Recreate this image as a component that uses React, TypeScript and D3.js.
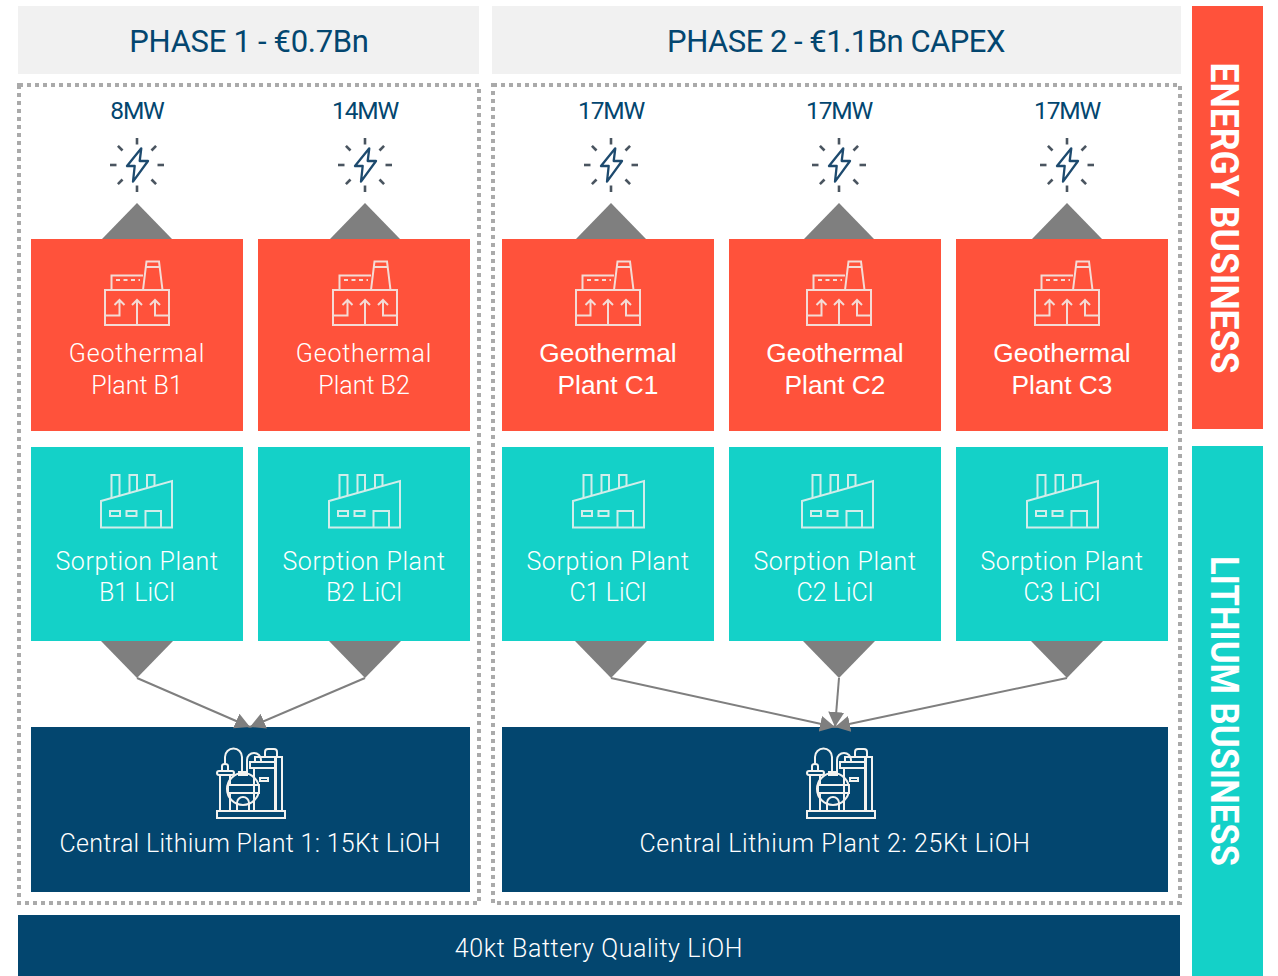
import React from "react";
import * as d3 from "d3";

// chart content
const phaseTitles = ["PHASE 1 - €0.7Bn", "PHASE 2 - €1.1Bn CAPEX"];
const phase1Plants = ["B1", "B2"];
const phase2Plants = ["C1", "C2", "C3"];
const outputs = ["8MW", "14MW", "17MW", "17MW", "17MW"];
const centralPlants = ["Central Lithium Plant 1: 15Kt LiOH", "Central Lithium Plant 2: 25Kt LiOH"];
const bottomLabel = "40kt Battery Quality LiOH";
const sideLabels = ["ENERGY BUSINESS", "LITHIUM BUSINESS"];

const RED = "#ff523b";
const TEAL = "#14d1c8";
const NAVY = "#03466f";
const GREY = "#7f7f7f";
const FONT = "Roboto, sans-serif";
const ARIAL = "'Liberation Sans', Arial, sans-serif";

// the icons + arrows in the source slide sit a little off the box centres
const arrowX = [137, 365, 611, 839, 1067];
const factoryX = [137, 365, 608, 839, 1067];
const sorptionX = [136, 364, 608, 837, 1062];

const xP1 = d3.scaleBand().domain(phase1Plants).range([31, 470]).paddingInner(15 / 227);
const xP2 = d3.scaleBand().domain(phase2Plants).range([502, 1168]).paddingInner(15 / 227);

const columns = [
  ...phase1Plants.map((p) => ({ id: p, x: xP1(p)!, w: xP1.bandwidth() })),
  ...phase2Plants.map((p) => ({ id: p, x: xP2(p)!, w: xP2.bandwidth() })),
];

const line = d3.line();

const Bolt = ({ cx, cy }: { cx: number; cy: number }) => {
  const rays = d3.range(8).map((i) => {
    const a = (i * Math.PI) / 4;
    return { a, r0: 20.5, r1: 27 };
  });
  return (
    <g transform={`translate(${cx},${cy})`} fill="none">
      {rays.map((r, i) => (
        <line
          key={i}
          x1={Math.cos(r.a) * r.r0}
          y1={Math.sin(r.a) * r.r0}
          x2={Math.cos(r.a) * r.r1}
          y2={Math.sin(r.a) * r.r1}
          stroke="#4a5560"
          strokeWidth={2.6}
        />
      ))}
      <path
        d={line([[4.3, -16.7], [-10, 1], [-2.3, 1], [-4, 16.7], [11, -4], [2.7, -4]])! + "Z"}
        stroke="#1d4a6e"
        strokeWidth={2.3}
        strokeLinejoin="round"
      />
    </g>
  );
};

const Factory = ({ cx }: { cx: number }) => (
  <g transform={`translate(${cx},0)`} fill="none" stroke="#f3f3f0" strokeWidth={2} opacity={0.85}>
    <rect x={-32} y={290} width={64} height={35} />
    <path d="M-25.5 290V275.5H6" />
    <path d="M-21 280H3" strokeDasharray="4 3.5" />
    <path d="M6 290L9.5 261.5H22L25.5 290M8.5 267H23" />
    <path d="M0 325V300M-5 305L0 300L5 305" />
    <path d="M-31 315.5H-17.5V300M-22.5 305L-17.5 300L-12.5 305" />
    <path d="M31 315.5H18V300M13 305L18 300L23 305" />
  </g>
);

const Sorption = ({ cx }: { cx: number }) => (
  <g transform={`translate(${cx - 136},0)`} fill="none" stroke="#f3f3f0" strokeWidth={2} opacity={0.85}>
    <path d="M101 501L172 481V527.5H101Z" />
    <path d="M111.5 498V475H119.5V496" />
    <path d="M129.5 493V475H137V491" />
    <path d="M147 488V475H154.5V486" />
    <rect x={110} y={511} width={10} height={5} />
    <rect x={126.5} y={511} width={10} height={5} />
    <path d="M145.5 527.5V511H161V527.5" />
  </g>
);

const Refinery = ({ cx }: { cx: number }) => (
  <g transform={`translate(${cx - 250},0)`} fill="none" stroke="#f3f3f0" strokeWidth={2}>
    <rect x={217} y={811} width={68} height={7} />
    <path d="M220 811V775H230V811" />
    <rect x={217} y={771} width={17} height={4} rx={2} />
    <path d="M222 771V766Q222 764 225 764Q228 764 228 766V771" />
    <path d="M225 764V757A8 8 0 0 1 242 757V772" />
    <path d="M239 772H247V775H239Z" />
    <circle cx={243} cy={789} r={16} />
    <path d="M228 785H259V793H228Z" fill={NAVY} />
    <path d="M237 811V803A5 5 0 0 1 249 803V811" />
    <path d="M247 775V760A7 7 0 0 1 261 760V762" />
    <path d="M250 762H275V768H250ZM255 762V757H275V762" />
    <path d="M254 768V811M275 768V811" />
    <rect x={260} y={778} width={8} height={3} />
    <path d="M265 757V752Q265 749 268 749H274Q277 749 277 752V757" />
    <path d="M276 757H282V811H276Z" />
  </g>
);

export default function App() {
  // arrows run from the tip of each down-triangle to the central plant
  const arrows = [
    { from: arrowX[0], to: 250 },
    { from: arrowX[1], to: 250 },
    { from: arrowX[2], to: 835 },
    { from: arrowX[3], to: 835 },
    { from: arrowX[4], to: 835 },
  ];

  return (
    <svg width={1278} height={976} style={{ position: "absolute", left: 0, top: 0, fontFamily: FONT }}>
      <defs>
        <marker id="head" viewBox="0 0 15 16" refX={15} refY={8} markerWidth={15} markerHeight={16} orient="auto" markerUnits="userSpaceOnUse">
          <path d="M0 0L15 8L0 16Z" fill={GREY} />
        </marker>
      </defs>
      <rect width={1278} height={976} fill="#fff" />

      {/* phase headers */}
      <rect x={18} y={6} width={461} height={68} fill="#f1f1f1" />
      <rect x={492} y={6} width={689} height={68} fill="#f1f1f1" />
      <text x={249} y={52} textAnchor="middle" fontSize={31} letterSpacing={-0.3} fill={NAVY}>{phaseTitles[0]}</text>
      <text x={836} y={52} textAnchor="middle" fontSize={31} letterSpacing={-0.5} fill={NAVY}>{phaseTitles[1]}</text>

      {/* dotted phase frames */}
      <rect x={19} y={85} width={460} height={818} fill="none" stroke="#aaa" strokeWidth={4} strokeDasharray="4 4" />
      <rect x={493} y={85} width={687} height={818} fill="none" stroke="#aaa" strokeWidth={4} strokeDasharray="4 4" />

      {/* plant boxes */}
      {columns.map((c, i) => {
        const mid = c.x + c.w / 2;
        const ax = arrowX[i];
        // C column geothermal labels are in a different face on the slide
        const gFont = i < 2
          ? { fontFamily: FONT, fontSize: 25, fontWeight: 300, fill: "#fff" }
          : { fontFamily: ARIAL, fontSize: 26.3, fontWeight: 400, fill: "#fff" };
        return (
          <g key={c.id}>
            <text x={ax} y={119} textAnchor="middle" fontSize={24.5} letterSpacing={-1.2} fill={NAVY}>{outputs[i]}</text>
            <Bolt cx={ax} cy={165} />
            <path d={line([[ax - 35, 239], [ax, 203], [ax + 35, 239]])! + "Z"} fill={GREY} />
            <rect x={c.x} y={239} width={c.w} height={192} fill={RED} />
            <Factory cx={factoryX[i]} />
            <text x={mid} y={362} textAnchor="middle" letterSpacing={i < 2 ? 0.8 : 0} {...gFont}>Geothermal</text>
            <text x={mid} y={394} textAnchor="middle" {...gFont}>Plant {c.id}</text>

            <rect x={c.x} y={447} width={c.w} height={194} fill={TEAL} />
            <Sorption cx={sorptionX[i]} />
            <text x={mid} y={570} textAnchor="middle" fontSize={25} fontWeight={300} letterSpacing={0.6} fill="#fff">Sorption Plant</text>
            <text x={mid} y={601} textAnchor="middle" fontSize={25} fontWeight={300} fill="#fff">{c.id} LiCl</text>
            <path d={line([[ax - 36, 641], [ax, 678], [ax + 36, 641]])! + "Z"} fill={GREY} />
          </g>
        );
      })}

      {/* central plants */}
      <rect x={31} y={727} width={439} height={165} fill={NAVY} />
      <rect x={502} y={727} width={666} height={165} fill={NAVY} />
      <Refinery cx={250} />
      <Refinery cx={840} />
      <text x={250} y={852} textAnchor="middle" fontSize={25} fontWeight={300} letterSpacing={0.3} fill="#fff">{centralPlants[0]}</text>
      <text x={835} y={852} textAnchor="middle" fontSize={25} fontWeight={300} letterSpacing={0.6} fill="#fff">{centralPlants[1]}</text>

      {arrows.map((a, i) => (
        <path
          key={i}
          d={line([[a.from, 678], [a.to, 727]])!}
          stroke={GREY}
          strokeWidth={2}
          fill="none"
          markerEnd="url(#head)"
        />
      ))}

      {/* bottom bar */}
      <rect x={18} y={915} width={1162} height={61} fill={NAVY} />
      <text x={599} y={957} textAnchor="middle" fontSize={25} fontWeight={300} letterSpacing={0.6} fill="#fff">{bottomLabel}</text>

      {/* side bars */}
      <rect x={1192} y={6} width={71} height={423} fill={RED} />
      <rect x={1192} y={446} width={71} height={530} fill={TEAL} />
      <text transform="translate(1211,218) rotate(90)" textAnchor="middle" fontSize={39} fontWeight={700} fill="#fff" textLength={311} lengthAdjust="spacingAndGlyphs">{sideLabels[0]}</text>
      <text transform="translate(1211,711) rotate(90)" textAnchor="middle" fontSize={39} fontWeight={700} fill="#fff" textLength={310} lengthAdjust="spacingAndGlyphs">{sideLabels[1]}</text>
    </svg>
  );
}
